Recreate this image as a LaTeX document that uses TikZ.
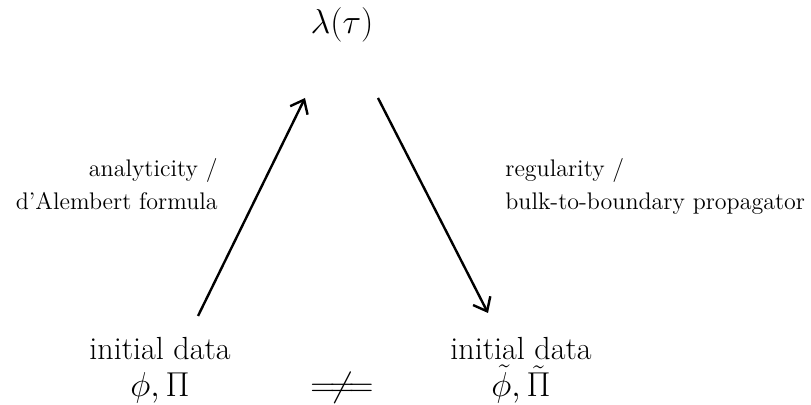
\documentclass[tikz,border=0pt]{standalone}
\usepackage{amsmath}
\usepackage{tikz}
\usetikzlibrary{arrows.meta}

\begin{document}
\begin{tikzpicture}[x=0.5pt,y=-0.5pt]
  \tikzset{
    bigtext/.style={
      align=center,
      font=\fontsize{16}{18.5}\selectfont,
      inner sep=0pt
    },
    maplabel/.style={
      font=\fontsize{12}{16.5}\selectfont,
      inner sep=0pt
    },
    maparrow/.style={
      -{Straight Barb[length=2.1mm,width=3.4mm]},
      line width=1.2pt
    }
  }
  \useasboundingbox (0,0) rectangle (811,405);

  % ------------------------------------------------------------------
  % Top: the boundary quantity
  % ------------------------------------------------------------------
  \node[bigtext,anchor=base] (lambda) at (342,34) {$\lambda(\tau)$};

  % ------------------------------------------------------------------
  % Bottom: the two sets of initial data
  % ------------------------------------------------------------------
  \node[bigtext] (ldata) at (160,370.5) {initial data\\$\phi,\Pi$};
  \node[bigtext] (rdata) at (521,370.5) {initial data\\$\tilde{\phi},\tilde{\Pi}$};
  \node[bigtext,font=\fontsize{17.5}{18.5}\selectfont,anchor=base] (noteq) at (342,397)
    {$=\mathrel{\mkern-3mu}\neq\mathrel{\mkern-3mu}=$};

  % arrow ends
  \coordinate (lfoot) at (198,316);
  \coordinate (lhead) at (305,98);
  \coordinate (rfoot) at (378,98);
  \coordinate (rhead) at (488,313);

  \draw[maparrow] (lfoot) -- (lhead);
  \draw[maparrow] (rfoot) -- (rhead);

  \node[maplabel,align=right,anchor=east] (llabel) at (218,184.5)
    {analyticity /\\d'Alembert formula};
  \node[maplabel,align=left,anchor=west] (rlabel) at (505,186.8)
    {regularity /\\bulk-to-boundary propagator};
\end{tikzpicture}
\end{document}
